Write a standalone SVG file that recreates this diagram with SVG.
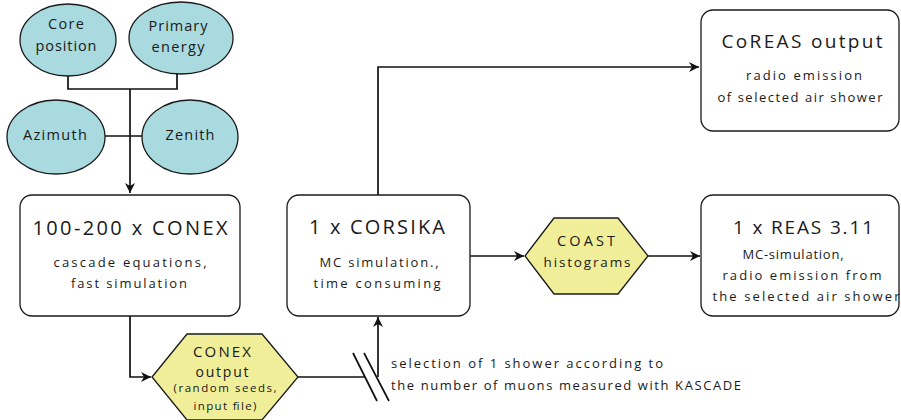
<svg xmlns="http://www.w3.org/2000/svg" width="901" height="420" viewBox="0 0 901 420">
<style>
text{font-family:"Open Sans","DejaVu Sans",sans-serif;fill:#1a1a1a;text-anchor:middle}
.ell{fill:#a9dadf;stroke:#1a1a1a;stroke-width:1.3}
.box{fill:#fff;stroke:#1a1a1a;stroke-width:1.3}
.hex{fill:#f0ee99;stroke:#1a1a1a;stroke-width:1.3}
.ln{fill:none;stroke:#111;stroke-width:1.7}
.t1{font-size:20px}
.t2{font-size:13px}
.te{font-size:14.5px}
</style>
<defs>
<marker id="arr" viewBox="0 0 10 10" refX="10" refY="5" markerWidth="10" markerHeight="10" markerUnits="userSpaceOnUse" orient="auto">
<path d="M0,0 L10,5 L0,10 L3,5 Z" fill="#111"/>
</marker>
</defs>
<g id="connectors">
<path class="ln" d="M68,76 V89 H177 V74"/>
<path class="ln" d="M130,89 V193" marker-end="url(#arr)"/>
<path class="ln" d="M105,136 H142"/>
<path class="ln" d="M130,316 V377 H151" marker-end="url(#arr)"/>
<path class="ln" d="M298,377 H365"/>
<path class="ln" d="M378,377 V317" marker-end="url(#arr)"/>
<path class="ln" d="M353,353 L377,401 M364,353 L389,401"/>
<path class="ln" d="M378,195 V67 H699" marker-end="url(#arr)"/>
<path class="ln" d="M470,256 H524" marker-end="url(#arr)"/>
<path class="ln" d="M648,256 H700" marker-end="url(#arr)"/>
</g>
<g id="core">
<ellipse class="ell" cx="68" cy="40" rx="48" ry="36"/>
<text class="te" x="66" y="29" textLength="36" lengthAdjust="spacing">Core</text>
<text class="te" x="66" y="51" textLength="61" lengthAdjust="spacing">position</text>
</g>
<g id="primary">
<ellipse class="ell" cx="181" cy="38" rx="52" ry="36"/>
<text class="te" x="178" y="31" textLength="59" lengthAdjust="spacing">Primary</text>
<text class="te" x="178" y="52" textLength="53" lengthAdjust="spacing">energy</text>
</g>
<g id="azimuth">
<ellipse class="ell" cx="56" cy="137" rx="49" ry="37"/>
<text class="te" x="55" y="140" textLength="64" lengthAdjust="spacing">Azimuth</text>
</g>
<g id="zenith">
<ellipse class="ell" cx="190" cy="137" rx="48" ry="37"/>
<text class="te" x="190" y="140" textLength="49" lengthAdjust="spacing">Zenith</text>
</g>
<g id="conex">
<rect class="box" x="20" y="195" width="220" height="121" rx="12"/>
<text class="t1" x="130" y="235" textLength="195" lengthAdjust="spacing">100-200 x CONEX</text>
<text class="t2" x="130" y="267" textLength="153" lengthAdjust="spacing">cascade equations,</text>
<text class="t2" x="129" y="288" textLength="116" lengthAdjust="spacing">fast simulation</text>
</g>
<g id="conex-output">
<polygon class="hex" points="152,377 187,334 262,334 298,377 262,420 187,420"/>
<text x="222" y="357" font-size="15" textLength="58" lengthAdjust="spacing">CONEX</text>
<text x="222" y="377" font-size="14" textLength="53" lengthAdjust="spacing">output</text>
<text x="225" y="392" font-size="11.5" textLength="103" lengthAdjust="spacing">(random seeds,</text>
<text x="225" y="410" font-size="11.5" textLength="63" lengthAdjust="spacing">input file)</text>
</g>
<g id="corsika">
<rect class="box" x="287" y="195" width="183" height="121" rx="12"/>
<text class="t1" x="377" y="234" textLength="136" lengthAdjust="spacing">1 x CORSIKA</text>
<text class="t2" x="379" y="267" textLength="119" lengthAdjust="spacing">MC simulation.,</text>
<text class="t2" x="377" y="288" textLength="127" lengthAdjust="spacing">time consuming</text>
</g>
<g id="coast">
<polygon class="hex" points="525,256 554,218 618,218 648,256 618,294 554,294"/>
<text x="586" y="246" font-size="14.5" textLength="58" lengthAdjust="spacing">COAST</text>
<text x="587" y="267" font-size="13.5" textLength="87" lengthAdjust="spacing">histograms</text>
</g>
<g id="coreas">
<rect class="box" x="701" y="10" width="198" height="121" rx="12"/>
<text x="802" y="48" font-size="19" textLength="161" lengthAdjust="spacing">CoREAS output</text>
<text class="t2" x="804" y="80" textLength="116" lengthAdjust="spacing">radio emission</text>
<text class="t2" x="800" y="102" textLength="165" lengthAdjust="spacing">of selected air shower</text>
</g>
<g id="reas">
<rect class="box" x="701" y="195" width="198" height="121" rx="12"/>
<text x="803" y="234" font-size="19" textLength="140" lengthAdjust="spacing">1 x REAS 3.11</text>
<text class="t2" x="793" y="259" textLength="101" lengthAdjust="spacing">MC-simulation,</text>
<text class="t2" x="802" y="280" textLength="159" lengthAdjust="spacing">radio emission from</text>
<text class="t2" x="806" y="301" textLength="187" lengthAdjust="spacing">the selected air shower</text>
</g>
<g id="selection-label">
<text class="t2" x="391" y="368" style="text-anchor:start" textLength="272" lengthAdjust="spacing">selection of 1 shower according to</text>
<text class="t2" x="391" y="390" style="text-anchor:start" textLength="350" lengthAdjust="spacing">the number of muons measured with KASCADE</text>
</g>
</svg>
